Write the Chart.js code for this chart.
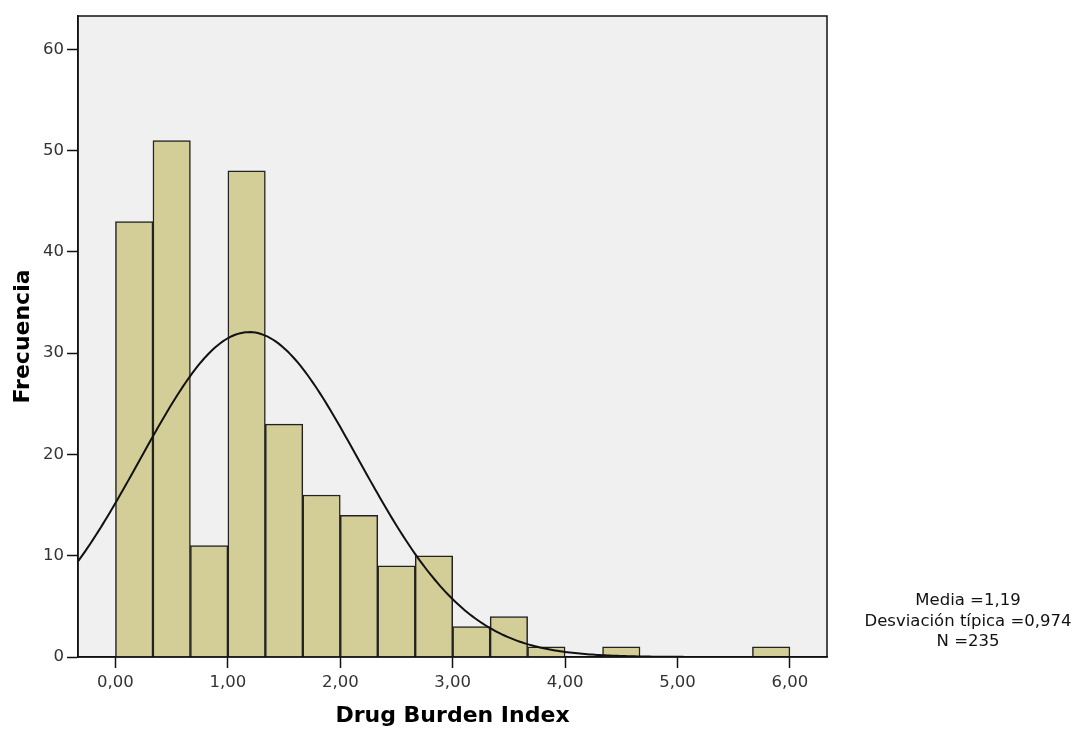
<!DOCTYPE html>
<html>
<head>
<meta charset="utf-8">
<title>Drug Burden Index</title>
<script src="https://cdn.jsdelivr.net/npm/chart.js@4.4.1/dist/chart.umd.min.js"></script>
<style>
  body { margin: 0; background: #fff; }
  canvas { display: block; }
</style>
</head>
<body>
<canvas id="histChart" width="1078" height="729"></canvas>
<script>
// histogram bins: width 1/3, first bin starts at 0
const binStart = 0;
const binWidth = 1 / 3;
const counts = [43, 51, 11, 48, 23, 16, 14, 9, 10, 3, 4, 1, 0, 1, 0, 0, 0, 1];

// summary stats printed next to the plot
const mean = 1.19;
const stdDev = 0.974;
const n = 235;
const statLines = ['Media =1,19', 'Desviación típica =0,974', 'N =235'];

const xTicks = [0, 1, 2, 3, 4, 5, 6];
const yTicks = [0, 10, 20, 30, 40, 50, 60];

const xMin = -1 / 3, xMax = 6.33;

// bars at the bin centres
const barData = counts.map((c, i) => ({ x: binStart + (i + 0.5) * binWidth, y: c }));

// fitted normal curve scaled to counts per bin
const curveData = [];
for (let k = 0; k <= 300; k++) {
    const x = xMin + (xMax - xMin) * k / 300;
    const z = (x - mean) / stdDev;
    const y = n * binWidth / (stdDev * Math.sqrt(2 * Math.PI)) * Math.exp(-0.5 * z * z);
    curveData.push({ x: x, y: y });
}

const fontFamily = '"DejaVu Sans", Verdana, sans-serif';

const frame = {
    id: 'frame',
    beforeDraw(chart) {
        const { ctx, chartArea: a } = chart;
        ctx.save();
        ctx.fillStyle = '#f0f0f0';
        ctx.fillRect(a.left, a.top, a.right - a.left, a.bottom - a.top);
        ctx.restore();
    },
    afterDraw(chart) {
        const { ctx, chartArea: a } = chart;
        ctx.save();
        ctx.strokeStyle = '#111';
        ctx.lineWidth = 1.5;
        ctx.strokeRect(a.left, a.top, a.right - a.left, a.bottom - a.top);
        // stats box on the right
        ctx.fillStyle = '#111';
        ctx.font = '16.5px ' + fontFamily;
        ctx.textAlign = 'center';
        ctx.textBaseline = 'alphabetic';
        statLines.forEach((t, i) => ctx.fillText(t, 968, 605 + i * 20.5));
        ctx.restore();
    }
};

const tickFont = { family: fontFamily, size: 16.5 };
const titleFont = { family: fontFamily, size: 22, weight: 'bold' };

new Chart(document.getElementById('histChart'), {
    type: 'bar',
    data: {
        datasets: [
            {
                type: 'line',
                data: curveData,
                borderColor: '#111',
                borderWidth: 2,
                pointRadius: 0,
                tension: 0,
                order: 0
            },
            {
                type: 'bar',
                data: barData,
                backgroundColor: '#d3ce97',
                borderColor: '#222',
                borderWidth: 1.5,
                barPercentage: 1,
                categoryPercentage: 1,
                order: 1
            }
        ]
    },
    options: {
        responsive: false,
        animation: false,
        devicePixelRatio: 1,
        layout: { padding: { left: 0, right: 251, top: 16, bottom: 0 } },
        plugins: { legend: { display: false }, tooltip: { enabled: false } },
        scales: {
            x: {
                type: 'linear',
                min: xMin,
                max: xMax,
                offset: false,
                afterBuildTicks: s => { s.ticks = xTicks.map(v => ({ value: v })); },
                afterFit: s => { s.height = 72; },
                grid: { offset: false, drawOnChartArea: false, tickLength: 11, tickColor: '#111', tickWidth: 1.5 },
                border: { color: '#111', width: 1.5 },
                ticks: {
                    font: tickFont,
                    color: '#333',
                    padding: 5,
                    maxRotation: 0,
                    callback: v => v.toFixed(2).replace('.', ',')
                },
                title: { display: true, text: 'Drug Burden Index', font: titleFont, color: '#000', padding: { top: 0, bottom: 0 } }
            },
            y: {
                min: 0,
                max: 63.3,
                afterBuildTicks: s => { s.ticks = yTicks.map(v => ({ value: v })); },
                afterFit: s => { s.width = 78; },
                grid: { drawOnChartArea: false, tickLength: 11, tickColor: '#111', tickWidth: 1.5 },
                border: { color: '#111', width: 1.5 },
                ticks: { font: tickFont, color: '#333', padding: 3 },
                title: { display: true, text: 'Frecuencia', font: titleFont, color: '#000', padding: { top: 10, bottom: 0 } }
            }
        }
    },
    plugins: [frame]
});
</script>
</body>
</html>
